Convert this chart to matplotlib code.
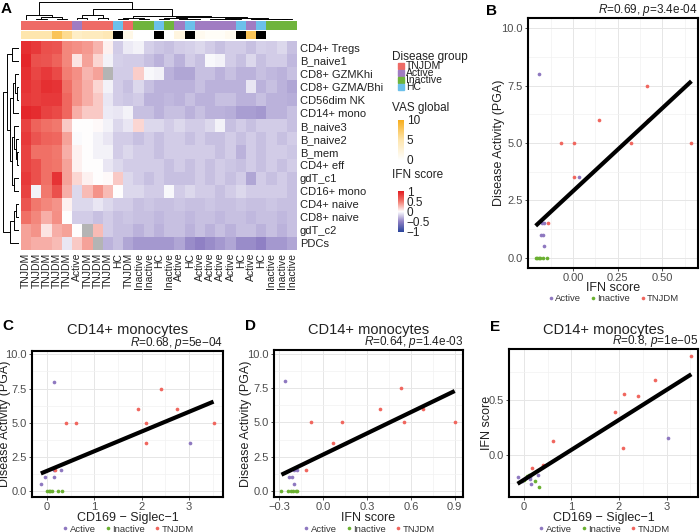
import numpy as np
import matplotlib
matplotlib.use('Agg')
import matplotlib.pyplot as plt
from matplotlib.colors import LinearSegmentedColormap, Normalize
from matplotlib.patches import Rectangle
from matplotlib.lines import Line2D

plt.rcParams['font.family'] = ['Liberation Sans', 'DejaVu Sans']
plt.rcParams['mathtext.fontset'] = 'custom'
plt.rcParams['mathtext.rm'] = 'Liberation Sans'
plt.rcParams['mathtext.it'] = 'Liberation Sans:italic'

nan = np.nan

# ---------------- data: heatmap (panel A) ----------------
row_labels = ['CD4+ Tregs', 'B_naive1', 'CD8+ GZMKhi', 'CD8+ GZMA/Bhi', 'CD56dim NK',
              'CD14+ mono', 'B_naive3', 'B_naive2', 'B_mem', 'CD4+ eff', 'gdT_c1',
              'CD16+ mono', 'CD4+ naive', 'CD8+ naive', 'gdT_c2', 'PDCs']
col_groups = (['TNJDM'] * 5 + ['Active'] + ['TNJDM'] * 3 +
              ['HC', 'TNJDM', 'Inactive', 'Inactive', 'HC', 'Inactive', 'Active', 'HC',
               'Active', 'Active', 'Active', 'Active', 'HC', 'Active', 'HC',
               'Inactive', 'Inactive', 'Inactive'])
vas_global = [5, 5, 5, 8, 6, 3.5, 4, 4, 4.5, nan, 1.5, 0, 0, nan, 0, 2, nan,
              1, 0.5, 0.5, 1, nan, 8, nan, 0, 0, 0]

ifn_matrix = np.array([
    [0.9, 0.85, 0.72, 0.7, 0.45, 0.42, 0.38, 0.28, 0.05, -0.2, -0.08, -0.05, -0.18, -0.22, -0.25, -0.2, -0.18, -0.15, -0.2, -0.25, -0.2, -0.2, -0.25, -0.18, -0.2, -0.15, -0.25],
    [0.95, 0.72, 0.7, 0.62, 0.45, 0.1, 0.35, 0.15, -0.05, -0.18, -0.2, -0.2, -0.25, -0.3, -0.22, -0.3, -0.2, -0.25, -0.03, -0.05, -0.2, -0.25, -0.15, -0.25, -0.2, -0.2, -0.28],
    [0.9, 0.78, 0.85, 0.75, 0.48, 0.42, 0.28, 0.35, nan, -0.2, -0.2, 0.18, -0.03, -0.05, -0.3, -0.35, -0.35, -0.25, -0.25, -0.3, -0.25, -0.3, -0.3, -0.25, -0.28, -0.3, -0.25],
    [0.88, 0.82, 0.9, 0.88, 0.55, 0.4, 0.3, 0.15, -0.05, -0.2, -0.25, -0.15, -0.25, -0.3, -0.3, -0.3, -0.3, -0.25, -0.3, -0.3, -0.3, -0.3, -0.1, -0.3, -0.25, -0.3, -0.35],
    [0.85, 0.82, 0.85, 0.85, 0.6, 0.4, 0.3, 0.2, -0.1, -0.2, -0.22, -0.2, -0.3, -0.3, -0.28, -0.3, -0.25, -0.3, -0.3, -0.25, -0.25, -0.3, -0.3, -0.25, -0.3, -0.3, -0.32],
    [0.95, 0.92, 0.8, 0.75, 0.6, 0.3, 0.2, 0.2, -0.08, -0.1, -0.05, -0.25, -0.25, -0.3, -0.25, -0.25, -0.3, -0.25, -0.3, -0.3, -0.32, -0.38, -0.38, -0.4, -0.3, -0.3, -0.25],
    [0.8, 0.62, 0.55, 0.5, 0.2, 0.0, 0.0, 0.02, -0.05, -0.15, -0.1, 0.15, -0.15, -0.15, -0.2, -0.15, -0.2, -0.2, -0.15, -0.05, -0.25, -0.2, -0.25, -0.2, -0.2, -0.2, -0.25],
    [0.85, 0.7, 0.62, 0.6, 0.35, -0.02, 0.0, -0.05, -0.1, -0.2, -0.2, -0.25, -0.2, -0.25, -0.2, -0.2, -0.25, -0.2, -0.25, -0.25, -0.2, -0.25, -0.2, -0.25, -0.2, -0.25, -0.2],
    [0.8, 0.55, 0.55, 0.5, 0.3, 0.05, 0.0, -0.05, -0.05, -0.2, -0.15, -0.2, -0.2, -0.25, -0.2, -0.2, -0.2, -0.2, -0.2, -0.25, -0.2, -0.3, -0.2, -0.25, -0.2, -0.2, -0.22],
    [0.8, 0.72, 0.55, 0.52, 0.35, 0.05, 0.0, 0.0, -0.1, -0.15, -0.2, -0.2, -0.2, -0.2, -0.25, -0.2, -0.25, -0.2, -0.25, -0.2, -0.22, -0.25, -0.2, -0.25, -0.2, -0.25, -0.2],
    [0.85, 0.72, 0.55, 0.88, 0.35, 0.15, 0.05, 0.0, 0.02, 0.2, -0.15, -0.2, -0.25, -0.2, -0.25, -0.25, -0.25, -0.2, -0.25, -0.2, -0.25, -0.2, -0.35, -0.2, -0.25, -0.2, -0.25],
    [0.8, -0.05, 0.5, 0.72, 0.3, -0.15, 0.25, 0.4, 0.25, 0.0, -0.15, -0.15, -0.2, -0.2, -0.03, -0.2, -0.15, -0.2, -0.2, -0.25, -0.2, -0.15, -0.2, -0.2, -0.2, -0.2, -0.25],
    [0.7, 0.5, 0.45, 0.4, 0.05, -0.15, -0.15, -0.1, -0.15, -0.2, -0.2, -0.25, -0.22, -0.25, -0.25, -0.22, -0.25, -0.25, -0.22, -0.25, -0.25, -0.22, -0.25, -0.25, -0.22, -0.25, -0.25],
    [0.55, 0.45, 0.3, 0.42, 0.0, -0.2, -0.2, -0.25, -0.2, -0.25, -0.22, -0.25, -0.25, -0.28, -0.25, -0.25, -0.28, -0.25, -0.25, -0.28, -0.25, -0.25, -0.28, -0.25, -0.25, -0.28, -0.25],
    [0.35, 0.4, 0.1, 0.3, 0.35, 0.0, nan, 0.25, -0.2, -0.25, -0.25, -0.3, -0.25, -0.3, -0.25, -0.25, -0.3, -0.25, -0.3, -0.25, -0.3, -0.25, -0.25, -0.3, -0.25, -0.3, -0.25],
    [0.35, 0.3, 0.3, 0.25, -0.1, 0.2, 0.35, nan, -0.3, -0.25, -0.35, -0.4, -0.4, -0.4, -0.4, -0.35, -0.45, -0.5, -0.45, -0.4, -0.35, -0.45, -0.45, -0.5, -0.4, -0.4, -0.35],
])

# dendrograms as (left, right, height)
col_tree = ((0, ((1, 2, 3), (3, 4, 4), 8), 15),
            (((5, 6, 5), (7, 8, 6), 15),
             (((9, 10, 3), (11, 12, 2), 6),
              (((13, 14, 3), (15, (16, 17, 2), 3), 5),
               (((18, 19, 2), (20, 21, 3), 4),
                ((22, 23, 3), (24, (25, 26, 1.5), 2.5), 4), 6), 8), 12), 30),
            50)
row_tree = (((0, 1, 8),
             (((2, (3, 4, 2), 4), 5, 7),
              ((6, (7, (8, 9, 2), 3), 5), (10, 11, 6), 8), 10), 13),
            (((12, 13, 3), 14, 6), 15, 10),
            18)

# ---------------- data: scatter panels ----------------
groups = ['Active', 'Inactive', 'TNJDM']
pga = {'TNJDM': [7.5, 6, 6, 5, 5, 5, 5, 3.5, 1.5],
       'Active': [8, 3.5, 1.5, 1.5, 1.0, 1.0, 0.5],
       'Inactive': [0, 0, 0, 0, 0, 0]}
ifn_score = {'TNJDM': [0.415, 0.146, 0.42, -0.067, 0.006, 0.326, 0.663, 0.006, -0.14],
             'Active': [-0.19, 0.034, -0.175, -0.165, -0.18, -0.17, -0.165],
             'Inactive': [-0.21, -0.2, -0.19, -0.185, -0.17, -0.146]}
cd169 = {'TNJDM': [2.40, 1.92, 2.75, 0.41, 0.62, 2.10, 3.52, 2.09, 0.17],
         'Active': [0.15, 3.02, 0.14, 0.30, -0.04, 0.14, -0.13],
         'Inactive': [0.0, 0.04, 0.07, 0.10, 0.24, 0.32]}
ifn_cd14 = {'TNJDM': [0.533, 0.39, 0.68, -0.086, 0.13, 0.55, 0.90, 0.065, -0.115],
            'Active': [-0.26, 0.155, -0.20, -0.18, -0.235, -0.215, -0.20],
            'Inactive': [-0.222, -0.207, -0.188, -0.177, -0.238, -0.286]}

group_colors = {'TNJDM': '#EE6B66', 'Active': '#A07CC2', 'Inactive': '#6FB43C', 'HC': '#6CC0EA'}
point_colors = {'TNJDM': '#F0665E', 'Active': '#8E78C0', 'Inactive': '#6AB030'}

ifn_cmap = LinearSegmentedColormap.from_list(
    'ifn', [(0, '#2B469C'), (0.25, '#8F80C4'), (0.5, '#FFFFFF'), (0.75, '#F27A6E'), (1, '#E31E24')])
ifn_cmap.set_bad('#B4B4B4')
vas_cmap = LinearSegmentedColormap.from_list('vas', ['#FFFFFF', '#FEE6AE', '#F7AE1E'])

W, H = 700, 532
fig = plt.figure(figsize=(W / 100, H / 100), dpi=100)


def px_axes(x0, y0, x1, y1):
    return fig.add_axes([x0 / W, 1 - y1 / H, (x1 - x0) / W, (y1 - y0) / H])


def draw_tree(ax, node, orient):
    if isinstance(node, int):
        return node + 0.5, 0
    left, right, h = node
    cl, hl = draw_tree(ax, left, orient)
    cr, hr = draw_tree(ax, right, orient)
    if orient == 'top':
        ax.plot([cl, cl, cr, cr], [hl, h, h, hr], color='black', lw=0.7)
    else:
        ax.plot([hl, h, h, hr], [cl, cl, cr, cr], color='black', lw=0.7)
    return (cl + cr) / 2, h


ncol, nrow = len(col_groups), len(row_labels)

# ---------------- panel A ----------------
hax = px_axes(21, 41, 297, 250)
hax.imshow(ifn_matrix, cmap=ifn_cmap, norm=Normalize(-1, 1), aspect='auto',
           interpolation='nearest', extent=(0, ncol, nrow, 0))
hax.set_xlim(0, ncol)
hax.set_ylim(nrow, 0)
hax.set_xticks(np.arange(ncol) + 0.5)
hax.set_xticklabels(col_groups, rotation=90, fontsize=7.5, color='#222222')
hax.yaxis.tick_right()
hax.set_yticks(np.arange(nrow) + 0.5)
hax.set_yticklabels(row_labels, fontsize=8, color='#222222')
hax.tick_params(length=0, pad=2)
for s in hax.spines.values():
    s.set_visible(False)

gax = px_axes(21, 21, 297, 30)
gax.bar(np.arange(ncol), 1, width=1, align='edge', color=[group_colors[g] for g in col_groups])
gax.set_xlim(0, ncol)
gax.set_ylim(0, 1)
gax.axis('off')

vax = px_axes(21, 31, 297, 39)
vas_cols = ['black' if np.isnan(v) else vas_cmap(v / 10) for v in vas_global]
vax.bar(np.arange(ncol), 1, width=1, align='edge', color=vas_cols)
vax.set_xlim(0, ncol)
vax.set_ylim(0, 1)
vax.axis('off')

dax = px_axes(21, 2, 297, 20)
draw_tree(dax, col_tree, 'top')
dax.set_xlim(0, ncol)
dax.set_ylim(0, col_tree[2])
dax.axis('off')

ldax = px_axes(2.5, 41, 19, 250)
draw_tree(ldax, row_tree, 'left')
ldax.set_ylim(nrow, 0)
ldax.set_xlim(row_tree[2], 0)
ldax.axis('off')

# overlay in pixel coordinates for legends and labels
lax = fig.add_axes([0, 0, 1, 1], zorder=10)
lax.set_xlim(0, W)
lax.set_ylim(H, 0)
lax.axis('off')
lax.patch.set_alpha(0)

lax.text(392, 57, 'Disease group', fontsize=8.5, va='center', color='#222222')
for i, g in enumerate(['TNJDM', 'Active', 'Inactive', 'HC']):
    yc = 66 + i * 7
    lax.add_patch(Rectangle((398, yc - 3), 6, 6, color=group_colors[g]))
    lax.text(406, yc, g, fontsize=7.5, va='center', color='#222222')

lax.text(392, 108, 'VAS global', fontsize=8.5, va='center', color='#222222')
cax1 = px_axes(398, 120, 404, 160)
cax1.imshow(np.linspace(10, 0, 100)[:, None], cmap=vas_cmap, aspect='auto', extent=(0, 1, 0, 10))
cax1.set_xticks([])
cax1.yaxis.tick_right()
cax1.set_yticks([0, 5, 10])
cax1.set_yticklabels(['0', '5', '10'], fontsize=8.5, color='#222222')
cax1.tick_params(length=0, pad=2)
for s in cax1.spines.values():
    s.set_visible(False)

lax.text(392, 175, 'IFN score', fontsize=8.5, va='center', color='#222222')
cax2 = px_axes(398, 191, 404, 232)
cax2.imshow(np.linspace(1, -1, 100)[:, None], cmap=ifn_cmap, aspect='auto', extent=(0, 1, -1, 1))
cax2.set_xticks([])
cax2.yaxis.tick_right()
cax2.set_yticks([-1, -0.5, 0, 0.5, 1])
cax2.set_yticklabels(['\u22121', '\u22120.5', '0', '0.5', '1'], fontsize=8.5, color='#222222')
cax2.tick_params(length=0, pad=2)
for s in cax2.spines.values():
    s.set_visible(False)


# ---------------- scatter panels ----------------
def scatter_panel(box, xd, yd, xlim, ylim, xmaj, xmin, ymaj, ymin, xfmt, yfmt,
                  xlabel, ylabel, stat, ylab_x, xlab_y, legend_y):
    ax = px_axes(*box)
    x0, y0, x1, y1 = box
    allx, ally = [], []
    for g in groups:
        ax.scatter(xd[g], yd[g], s=7, color=point_colors[g], linewidths=0, zorder=3)
        allx += list(xd[g])
        ally += list(yd[g])
    allx, ally = np.array(allx), np.array(ally)
    slope, icpt = np.polyfit(allx, ally, 1)
    xx = np.array([allx.min(), allx.max()])
    ax.plot(xx, icpt + slope * xx, color='black', lw=3, zorder=4, solid_capstyle='butt')
    ax.set_xlim(*xlim)
    ax.set_ylim(*ylim)
    ax.set_xticks(xmaj)
    ax.set_xticklabels([xfmt(v) for v in xmaj])
    ax.set_xticks(xmin, minor=True)
    ax.set_yticks(ymaj)
    ax.set_yticklabels([yfmt(v) for v in ymaj])
    ax.set_yticks(ymin, minor=True)
    ax.grid(which='major', color='#E6E6E6', lw=0.7)
    ax.grid(which='minor', color='#F2F2F2', lw=0.5)
    ax.set_axisbelow(True)
    ax.tick_params(which='major', labelsize=8, labelcolor='#4D4D4D', color='#333333',
                   length=2.5, width=0.6, pad=1.2)
    ax.tick_params(which='minor', length=0)
    for s in ax.spines.values():
        s.set_linewidth(1.5)
        s.set_color('black')
    ax.set_xlabel(xlabel, fontsize=9, color='#222222')
    ax.set_ylabel(ylabel, fontsize=9, color='#222222')
    # label positions given in figure pixels (right edge of y label, top of x label)
    ax.yaxis.set_label_coords(-(x0 - ylab_x) / (x1 - x0), 0.5)
    ax.xaxis.set_label_coords(0.5, -(xlab_y - y1) / (y1 - y0))
    lax.text(x1, y0 - 8, stat, fontsize=8.5, ha='right', va='center', color='#222222')
    handles = [Line2D([], [], marker='o', ls='', ms=2.6, color=point_colors[g], mec='none')
               for g in groups]
    fig.legend(handles, groups, loc='center', bbox_to_anchor=((x0 + x1) / 2 / W, 1 - legend_y / H),
               ncol=3, frameon=False, fontsize=6.8, handletextpad=0.05, columnspacing=0.9,
               handlelength=0.8, borderpad=0, labelcolor='#333333')
    return ax


def f2(v):
    return ('%.2f' % v).replace('-', '\u2212')


def f1(v):
    return ('%.1f' % v).replace('-', '\u2212')


def f0(v):
    return '%d' % v


pga_maj = [0, 2.5, 5, 7.5, 10]
pga_min = [1.25, 3.75, 6.25, 8.75]

# B
scatter_panel((528, 18, 698, 268), ifn_score, pga, (-0.253, 0.70), (-0.45, 10.45),
              [0, 0.25, 0.5], [-0.125, 0.125, 0.375, 0.625], pga_maj, pga_min, f2, f1,
              'IFN score', 'Disease Activity (PGA)', r'$R$=0.69, $p$=3.4e-04', 505, 282, 298.5)
# C
scatter_panel((32, 351, 223, 497), cd169, pga, (-0.317, 3.72), (-0.45, 10.25),
              [0, 1, 2, 3], [0.5, 1.5, 2.5, 3.5], pga_maj, pga_min, f0, f1,
              'CD169 \u2212 Siglec\u22121', 'Disease Activity (PGA)', r'$R$=0.68, $p$=5e$-$04',
              11, 512, 529)
# D
scatter_panel((274, 350, 463, 497), ifn_cd14, pga, (-0.337, 0.957), (-0.45, 10.3),
              [-0.3, 0, 0.3, 0.6, 0.9], [-0.15, 0.15, 0.45, 0.75], pga_maj, pga_min, f1, f1,
              'IFN score', 'Disease Activity (PGA)', r'$R$=0.64, $p$=1.4e-03', 252, 512, 529)
# E
scatter_panel((509, 349, 698, 497), cd169, ifn_cd14, (-0.31, 3.66), (-0.379, 0.961),
              [0, 1, 2, 3], [0.5, 1.5, 2.5, 3.5], [0, 0.5], [-0.25, 0.25, 0.75], f0, f1,
              'CD169 \u2212 Siglec\u22121', 'IFN score', r'$R$=0.8, $p$=1e$-$05', 493, 512, 529)

# titles and panel letters
for xc in [127.5, 368.5, 603.5]:
    lax.text(xc, 330, 'CD14+ monocytes', fontsize=10.5, ha='center', va='center', color='#222222')
for letter, x, y in [('A', 1, 9), ('B', 486, 11), ('C', 2, 326), ('D', 245, 326), ('E', 490, 327)]:
    lax.text(x, y, letter, fontsize=11, fontweight='bold', ha='left', va='center')

fig.savefig('out.png', dpi=100)
